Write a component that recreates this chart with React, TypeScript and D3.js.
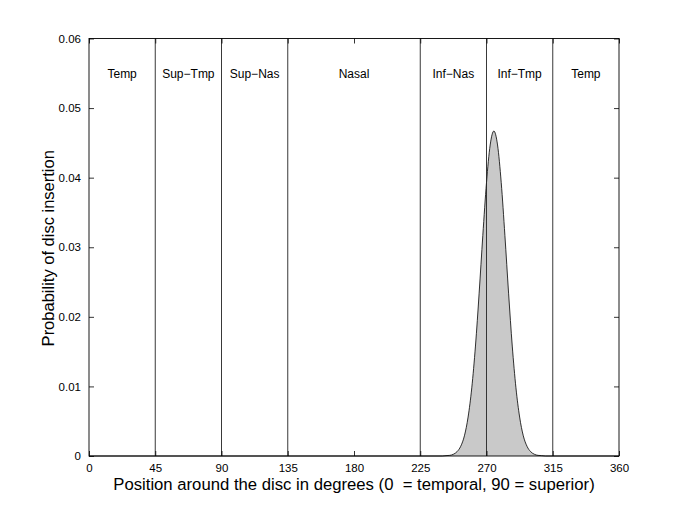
import React, { useRef, useEffect } from 'react';
import * as d3 from 'd3';

// boundaries between disc sectors (degrees)
const boundaries = [45, 90, 135, 225, 270, 315];
const regionNames = ['Temp', 'Sup\u2212Tmp', 'Sup\u2212Nas', 'Nasal', 'Inf\u2212Nas', 'Inf\u2212Tmp', 'Temp'];
const regionCenters = [22.5, 67.5, 112.5, 180, 247.5, 292.5, 337.5];

const xTicks = [0, 45, 90, 135, 180, 225, 270, 315, 360];
const yTicks = [0, 0.01, 0.02, 0.03, 0.04, 0.05, 0.06];

// probability curve
const angles = [0, 240, 242.5, 245, 247.5, 250, 252.5, 255, 257.5, 260, 262.5, 265, 267.5, 270, 272.5, 275, 277.5, 280, 282.5, 285, 287.5, 290, 292.5, 295, 297.5, 300, 302.5, 305, 307.5, 310, 360];
const probs = [0, 0, 0.00005, 0.00009, 0.00025, 0.00062, 0.0014, 0.0029, 0.0056, 0.0098, 0.0158, 0.0234, 0.0317, 0.0393, 0.0447, 0.0467, 0.0447, 0.0393, 0.0317, 0.0234, 0.0158, 0.0098, 0.0056, 0.0029, 0.0014, 0.00062, 0.00025, 0.00009, 0.00005, 0, 0];

const W = 685;
const H = 514;
const margin = { left: 89, right: 66, top: 38.5, bottom: 58 };

const App = () => {
  const svgRef = useRef<SVGSVGElement>(null);

  useEffect(() => {
    const svg = d3.select(svgRef.current);
    svg.selectAll('*').remove();

    const x = d3.scaleLinear().domain([0, 360]).range([margin.left, W - margin.right]);
    const y = d3.scaleLinear().domain([0, 0.06]).range([H - margin.bottom, margin.top]);
    const font = 'Liberation Sans, Arial, Helvetica, sans-serif';

    const data = angles.map((a, i) => ({ a, p: probs[i] }));

    // filled curve
    const area = d3.area<{ a: number; p: number }>()
      .x(d => x(d.a))
      .y0(y(0))
      .y1(d => y(d.p))
      .curve(d3.curveMonotoneX);
    const line = d3.line<{ a: number; p: number }>()
      .x(d => x(d.a))
      .y(d => y(d.p))
      .curve(d3.curveMonotoneX);

    svg.append('path')
      .attr('d', area(data))
      .attr('fill', '#c9c9c9');
    svg.append('path')
      .attr('d', line(data))
      .attr('fill', 'none')
      .attr('stroke', '#000')
      .attr('stroke-width', 0.8);

    // sector boundaries
    svg.selectAll('.bound')
      .data(boundaries)
      .enter()
      .append('line')
      .attr('x1', d => x(d))
      .attr('x2', d => x(d))
      .attr('y1', y(0))
      .attr('y2', y(0.06))
      .attr('stroke', '#222')
      .attr('stroke-width', 0.9);

    // sector names
    svg.selectAll('.region')
      .data(regionNames)
      .enter()
      .append('text')
      .attr('x', (d, i) => x(regionCenters[i]))
      .attr('y', 78)
      .attr('text-anchor', 'middle')
      .attr('font-family', font)
      .attr('font-size', 12)
      .text(d => d);

    // axes (inward ticks, box)
    const tickLen = 5;
    const axisStyle = (g: any) => {
      g.select('.domain').remove();
      g.selectAll('line').attr('stroke', '#000').attr('stroke-width', 0.8);
      g.selectAll('text').attr('font-family', font).attr('font-size', 11.5).attr('fill', '#000');
    };

    svg.append('g')
      .attr('transform', `translate(0,${y(0)})`)
      .call(d3.axisBottom(x).tickValues(xTicks).tickSizeInner(-tickLen).tickSizeOuter(0).tickPadding(tickLen + 2.5).tickFormat(d3.format('d')))
      .call(axisStyle);
    svg.append('g')
      .attr('transform', `translate(0,${y(0.06)})`)
      .call(d3.axisTop(x).tickValues(xTicks).tickSizeInner(-tickLen).tickSizeOuter(0).tickFormat(() => ''))
      .call(axisStyle);
    svg.append('g')
      .attr('transform', `translate(${x(0)},0)`)
      .call(d3.axisLeft(y).tickValues(yTicks).tickSizeInner(-tickLen).tickSizeOuter(0).tickPadding(tickLen + 3).tickFormat(d => (d === 0 ? '0' : d3.format('.2f')(d as number))))
      .call(axisStyle);
    svg.append('g')
      .attr('transform', `translate(${x(360)},0)`)
      .call(d3.axisRight(y).tickValues(yTicks).tickSizeInner(-tickLen).tickSizeOuter(0).tickFormat(() => ''))
      .call(axisStyle);

    svg.append('rect')
      .attr('x', x(0))
      .attr('y', y(0.06))
      .attr('width', x(360) - x(0))
      .attr('height', y(0) - y(0.06))
      .attr('fill', 'none')
      .attr('stroke', '#000')
      .attr('stroke-width', 0.9);

    // axis titles
    svg.append('text')
      .attr('x', (x(0) + x(360)) / 2)
      .attr('y', 489.5)
      .attr('text-anchor', 'middle')
      .attr('font-family', font)
      .attr('font-size', 16.7)
      .style('white-space', 'pre')
      .text('Position around the disc in degrees (0  = temporal, 90 = superior)');
    svg.append('text')
      .attr('transform', `translate(54,${(y(0) + y(0.06)) / 2 + 1}) rotate(-90)`)
      .attr('text-anchor', 'middle')
      .attr('font-family', font)
      .attr('font-size', 16.5)
      .text('Probability of disc insertion');
  }, []);

  return (
    <svg ref={svgRef} width={W} height={H} style={{ display: 'block', position: 'absolute', left: 0, top: 0, background: '#fff' }}></svg>
  );
};

export default App;
